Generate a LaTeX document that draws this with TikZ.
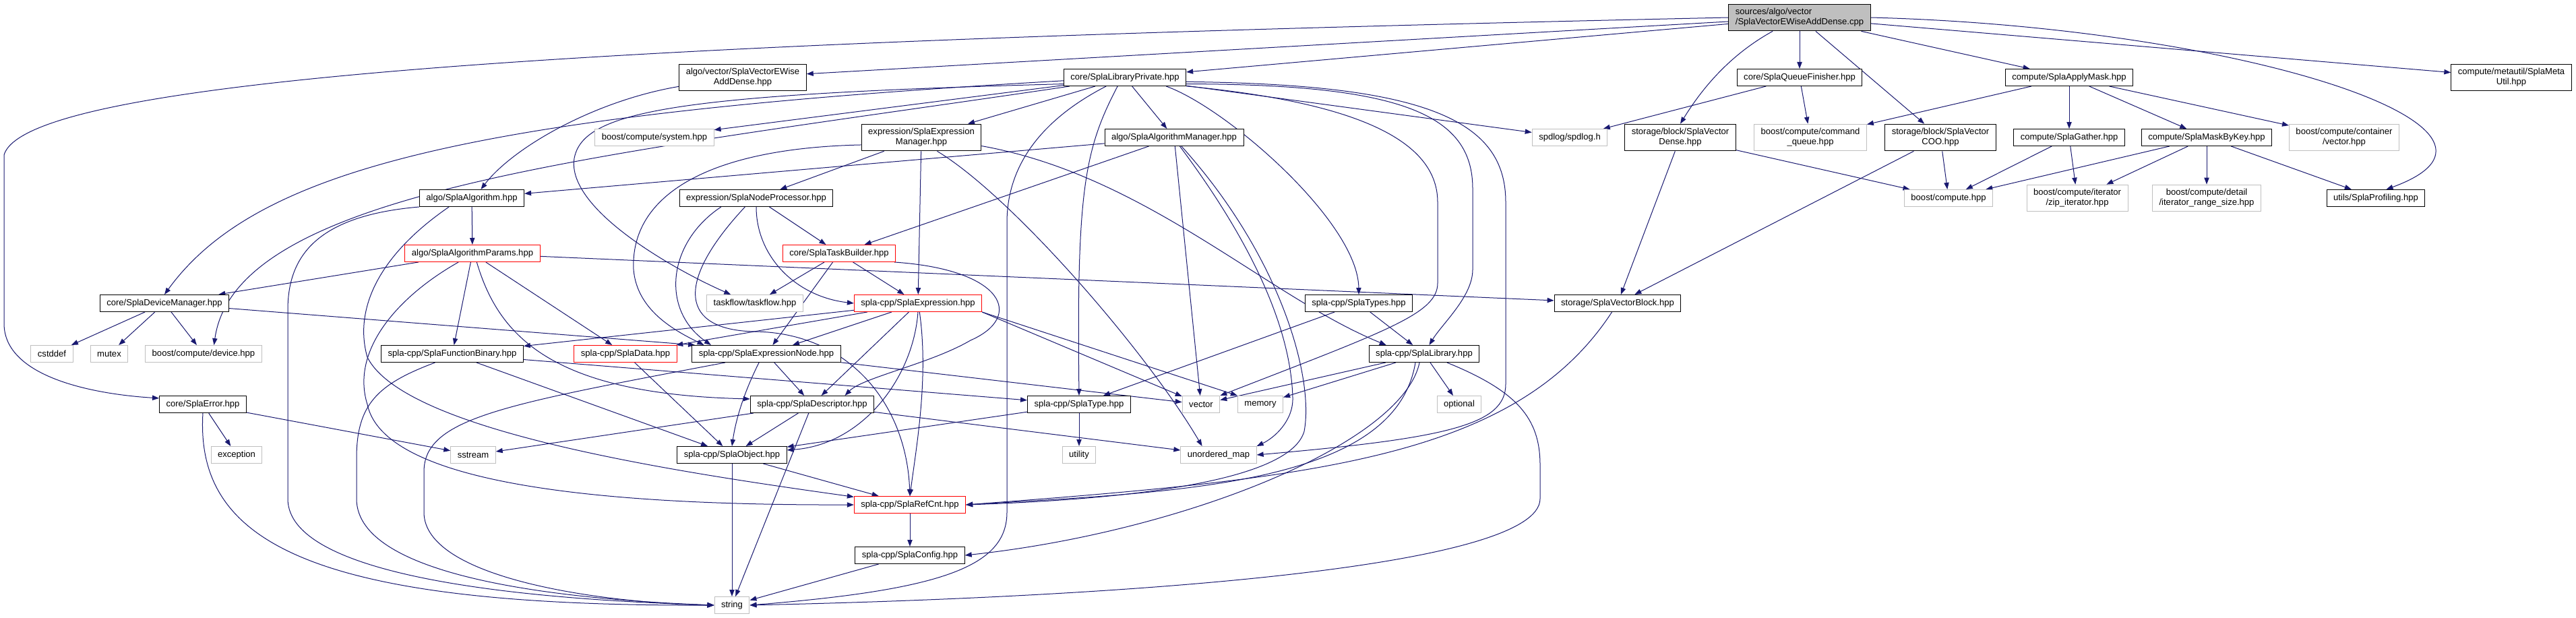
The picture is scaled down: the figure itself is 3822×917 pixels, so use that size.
\documentclass[tikz,border=0pt]{standalone}
\usepackage{fontspec}
\setmainfont{Liberation Sans}
\usetikzlibrary{arrows.meta, backgrounds}
\definecolor{dxedge}{RGB}{25,25,112}
\definecolor{dxgrey}{RGB}{191,191,191}
\definecolor{dxred}{RGB}{255,0,0}
\tikzset{
  hdrbox/.style = {draw=black, fill=white, line width=0.75pt,
                   inner xsep=7.5pt, inner ysep=4.7pt, minimum height=18.75pt,
                   align=center, font=\fontsize{9.8}{11.25}\selectfont},
  sysbox/.style = {hdrbox, draw=dxgrey},
  cutbox/.style = {hdrbox, draw=dxred},
  srcbox/.style = {hdrbox, fill=dxgrey, align=left},
  incl/.style   = {-{Triangle[length=7.5pt,width=5.5pt]}, line width=0.75pt, dxedge},
}

\begin{document}
\begin{tikzpicture}[x=0.75pt, y=-0.75pt]
  \useasboundingbox (0,0) rectangle (3822,917);
  % the source file and its direct includes
  \node[srcbox] (root) at (2670,26) {sources/algo/vector\\/SplaVectorEWiseAddDense.cpp};
  \node[hdrbox] (vewise)    at (1102,115) {algo/vector/SplaVectorEWise\\AddDense.hpp};
  \node[hdrbox] (libpriv)   at (1669,115) {core/SplaLibraryPrivate.hpp};
  \node[hdrbox] (queuefin)  at (2670,115) {core/SplaQueueFinisher.hpp};
  \node[hdrbox] (applymask) at (3070,115) {compute/SplaApplyMask.hpp};
  \node[hdrbox] (metautil)  at (3726,115) {compute/metautil/SplaMeta\\Util.hpp};

  \node[sysbox] (bsystem)   at (971,204)  {boost/compute/system.hpp};
  \node[hdrbox] (exprman)   at (1367,204) {expression/SplaExpression\\Manager.hpp};
  \node[hdrbox] (algman)    at (1742,204) {algo/SplaAlgorithmManager.hpp};
  \node[sysbox] (spdlog)    at (2329,204) {spdlog/spdlog.h};
  \node[hdrbox] (vdense)    at (2493,204) {storage/block/SplaVector\\Dense.hpp};
  \node[sysbox] (bcmdq)     at (2686,204) {boost/compute/command\\\_queue.hpp};
  \node[hdrbox] (vcoo)      at (2879,204) {storage/block/SplaVector\\COO.hpp};
  \node[hdrbox] (gather)    at (3070,204) {compute/SplaGather.hpp};
  \node[hdrbox] (maskbykey) at (3274,204) {compute/SplaMaskByKey.hpp};
  \node[sysbox] (bcvector)  at (3478,204) {boost/compute/container\\/vector.hpp};

  \node[hdrbox] (algorithm) at (700,294)  {algo/SplaAlgorithm.hpp};
  \node[hdrbox] (nodeproc)  at (1122,294) {expression/SplaNodeProcessor.hpp};
  \node[sysbox] (bcompute)  at (2891,294) {boost/compute.hpp};
  \node[sysbox] (zipiter)   at (3082,294) {boost/compute/iterator\\/zip\_iterator.hpp};
  \node[sysbox] (iterrange) at (3274,294) {boost/compute/detail\\/iterator\_range\_size.hpp};
  \node[hdrbox] (profiling) at (3525,294) {utils/SplaProfiling.hpp};

  \node[cutbox] (algparams)   at (701,376)  {algo/SplaAlgorithmParams.hpp};
  \node[cutbox] (taskbuilder) at (1245,376) {core/SplaTaskBuilder.hpp};

  \node[hdrbox] (devman)     at (244,450)  {core/SplaDeviceManager.hpp};
  \node[sysbox] (taskflow)   at (1120,450) {taskflow/taskflow.hpp};
  \node[cutbox] (expression) at (1362,450) {spla-cpp/SplaExpression.hpp};
  \node[hdrbox] (types)      at (2016,450) {spla-cpp/SplaTypes.hpp};
  \node[hdrbox] (vblock)     at (2400,450) {storage/SplaVectorBlock.hpp};

  \node[sysbox] (cstddef)    at (77,525)   {cstddef};
  \node[sysbox] (mutex)      at (162,525)  {mutex};
  \node[sysbox] (bdevice)    at (302,525)  {boost/compute/device.hpp};
  \node[hdrbox] (funcbinary) at (671,525)  {spla-cpp/SplaFunctionBinary.hpp};
  \node[cutbox] (data)       at (928,525)  {spla-cpp/SplaData.hpp};
  \node[hdrbox] (exprnode)   at (1137,525) {spla-cpp/SplaExpressionNode.hpp};
  \node[hdrbox] (library)    at (2113,525) {spla-cpp/SplaLibrary.hpp};

  \node[hdrbox] (error)      at (301,600)  {core/SplaError.hpp};
  \node[hdrbox] (descriptor) at (1205,600) {spla-cpp/SplaDescriptor.hpp};
  \node[hdrbox] (type)       at (1601,600) {spla-cpp/SplaType.hpp};
  \node[sysbox] (vector)     at (1782,600) {vector};
  \node[sysbox] (memory)     at (1870,600) {memory};
  \node[sysbox] (optional)   at (2165,600) {optional};

  \node[sysbox] (exception)  at (351,675)  {exception};
  \node[sysbox] (sstream)    at (702,675)  {sstream};
  \node[hdrbox] (object)     at (1086,675) {spla-cpp/SplaObject.hpp};
  \node[sysbox] (utility)    at (1601,675) {utility};
  \node[sysbox] (unordmap)   at (1808,675) {unordered\_map};

  \node[cutbox] (refcnt)     at (1350,749) {spla-cpp/SplaRefCnt.hpp};
  \node[hdrbox] (config)     at (1350,824) {spla-cpp/SplaConfig.hpp};
  \node[sysbox] (string)     at (1086,898) {string};

  \begin{scope}[on background layer]
    % straight includes
    \draw[incl] (root) -- (vewise);
    \draw[incl] (root) -- (libpriv);
    \draw[incl] (root) -- (queuefin);
    \draw[incl] (root) -- (vcoo);
    \draw[incl] (root) -- (applymask);
    \draw[incl] (root) -- (metautil);
    \draw[incl] (libpriv) -- (bsystem);
    \draw[incl] (libpriv) -- (exprman);
    \draw[incl] (libpriv) -- (algman);
    \draw[incl] (libpriv) -- (spdlog);
    \draw[incl] (queuefin) -- (spdlog);
    \draw[incl] (queuefin) -- (bcmdq);
    \draw[incl] (applymask) -- (bcmdq);
    \draw[incl] (applymask) -- (gather);
    \draw[incl] (applymask) -- (maskbykey);
    \draw[incl] (applymask) -- (bcvector);
    \draw[incl] (gather) -- (bcompute);
    \draw[incl] (gather) -- (zipiter);
    \draw[incl] (maskbykey) -- (bcompute);
    \draw[incl] (maskbykey) -- (zipiter);
    \draw[incl] (maskbykey) -- (iterrange);
    \draw[incl] (maskbykey) -- (profiling);
    \draw[incl] (vdense) -- (vblock);
    \draw[incl] (vdense) -- (bcompute);
    \draw[incl] (vcoo) -- (vblock);
    \draw[incl] (vcoo) -- (bcompute);
    \draw[incl] (algman) -- (algorithm);
    \draw[incl] (algman) -- (taskbuilder);
    \draw[incl] (algman) -- (vector);
    \draw[incl] (exprman) -- (nodeproc);
    \draw[incl] (exprman) -- (expression);
    \draw[incl] (nodeproc) -- (taskbuilder);
    \draw[incl] (taskbuilder) -- (taskflow);
    \draw[incl] (taskbuilder) -- (expression);
    \draw[incl] (taskbuilder) -- (exprnode);
    \draw[incl] (algorithm) -- (algparams);
    \draw[incl] (algparams) -- (devman);
    \draw[incl] (algparams) -- (funcbinary);
    \draw[incl] (algparams) -- (data);
    \draw[incl] (algparams) -- (vblock);
    \draw[incl] (devman) -- (cstddef);
    \draw[incl] (devman) -- (mutex);
    \draw[incl] (devman) -- (bdevice);
    \draw[incl] (devman) -- (exprnode.173);
    \draw[incl] (expression) -- (funcbinary);
    \draw[incl] (expression) -- (data);
    \draw[incl] (expression) -- (exprnode);
    \draw[incl] (expression) -- (descriptor);
    \draw[incl] (expression.south east) -- (vector);
    \draw[incl] (expression.south east) -- (memory.north west);
    \draw[incl] (exprnode) -- (descriptor);
    \draw[incl] (exprnode) -- (vector);
    \draw[incl] (funcbinary) -- (type);
    \draw[incl] (funcbinary) -- (object);
    \draw[incl] (data) -- (object);
    \draw[incl] (types) -- (type);
    \draw[incl] (types) -- (library);
    \draw[incl] (library) -- (vector);
    \draw[incl] (library) -- (memory);
    \draw[incl] (library) -- (optional);
    \draw[incl] (error) -- (exception);
    \draw[incl] (error) -- (sstream);
    \draw[incl] (descriptor) -- (object);
    \draw[incl] (descriptor) -- (string);
    \draw[incl] (descriptor) -- (sstream);
    \draw[incl] (descriptor) -- (unordmap);
    \draw[incl] (type) -- (object);
    \draw[incl] (type) -- (utility);
    \draw[incl] (object) -- (refcnt);
    \draw[incl] (object) -- (string);
    \draw[incl] (refcnt) -- (config);
    \draw[incl] (config) -- (string);

    % curved includes
    \draw[incl] (root.west) .. controls (1000,60) and (40,110) .. (6,230) -- (6,480)
                .. controls (6,560) and (140,585) .. (error.172);
    \draw[incl] (root.207) .. controls (2560,85) and (2520,140) .. (vdense.north);
    \draw[incl] (root.east) .. controls (3320,40) and (3790,190) .. (profiling.40);
    \draw[incl] (vewise.188) .. controls (880,150) and (760,220) .. (algorithm.44);

    \draw[incl] (libpriv.183) .. controls (700,170) and (380,250) .. (devman.north);
    \draw[incl] (libpriv.189) .. controls (900,230) and (350,280) .. (bdevice.40);
    \draw[incl] (libpriv.186) .. controls (1000,140) and (865,165) .. (852,235)
                .. controls (840,310) and (1000,400) .. (taskflow.160);
    \draw[incl] (libpriv.230) .. controls (1610,220) and (1597,280) .. (type.north);
    \draw[incl] (libpriv.205) .. controls (1540,180) and (1494,250) .. (1494,330) -- (1494,760)
                .. controls (1494,840) and (1400,875) .. (string.east);
    \draw[incl] (libpriv.-12) .. controls (1820,160) and (2015,330) .. (types.north);
    \draw[incl] (libpriv.-8) .. controls (1990,150) and (2133,200) .. (2133,300) -- (2133,420)
                .. controls (2133,465) and (2060,490) .. (vector.north east);
    \draw[incl] (libpriv.-6) .. controls (2080,125) and (2185,170) .. (2185,280) -- (2185,400)
                .. controls (2185,440) and (2140,480) .. (library.60);
    \draw[incl] (libpriv.-4) .. controls (2120,125) and (2234,180) .. (2234,300) -- (2234,570)
                .. controls (2234,630) and (2150,650) .. (unordmap.east);

    \draw[incl] (algman.-57) .. controls (1850,350) and (1915,480) .. (1918,590)
                .. controls (1919,625) and (1890,650) .. (unordmap.north east);
    \draw[incl] (algman.-50) .. controls (1900,380) and (1950,560) .. (1935,640)
                .. controls (1915,710) and (1700,740) .. (refcnt.east);

    \draw[incl] (exprman.187) .. controls (1050,220) and (935,290) .. (940,400)
                .. controls (945,460) and (1000,490) .. (exprnode.172);
    \draw[incl] (exprman.-41) .. controls (1500,290) and (1700,520) .. (unordmap.152);
    \draw[incl] (exprman.-8) .. controls (1700,260) and (1880,440) .. (library.167);

    \draw[incl] (nodeproc.south) .. controls (1122,380) and (1180,440) .. (expression.west);
    \draw[incl] (nodeproc.194) .. controls (990,360) and (980,460) .. (exprnode.171);
    \draw[incl] (nodeproc.218) .. controls (1000,420) and (1010,490) .. (1120,492)
                .. controls (1260,494) and (1345,600) .. (refcnt.north);

    \draw[incl] (taskbuilder.-9) .. controls (1490,400) and (1520,470) .. (1440,505)
                .. controls (1380,540) and (1280,560) .. (descriptor.15);

    \draw[incl] (expression.south) .. controls (1355,560) and (1280,660) .. (object.5);
    \draw[incl] (expression.-80) .. controls (1378,560) and (1360,660) .. (refcnt.north);

    \draw[incl] (exprnode.230) .. controls (1105,580) and (1092,620) .. (object.north);
    \draw[incl] (exprnode.192) .. controls (750,600) and (629,620) .. (629,700) -- (629,760)
                .. controls (629,860) and (900,895) .. (string.west);
    \draw[incl] (funcbinary.207) .. controls (560,570) and (529,600) .. (529,680) -- (529,740)
                .. controls (529,860) and (850,890) .. (string.west);

    \draw[incl] (algorithm.south west) .. controls (470,320) and (427,380) .. (427,460) -- (427,740)
                .. controls (427,860) and (800,890) .. (string.west);
    \draw[incl] (algorithm.201) .. controls (560,380) and (525,460) .. (545,530)
                .. controls (600,640) and (1000,700) .. (refcnt.172);
    \draw[incl] (algparams.-64) .. controls (740,500) and (820,585) .. (descriptor.175);
    \draw[incl] (algparams.212) .. controls (590,440) and (520,520) .. (545,600)
                .. controls (570,720) and (900,750) .. (refcnt.west);

    \draw[incl] (error.south) .. controls (290,800) and (450,900) .. (string.west);

    \draw[incl] (library.225) .. controls (2070,720) and (1750,730) .. (refcnt.east);
    \draw[incl] (library.242) .. controls (2080,660) and (1750,790) .. (config.east);
    \draw[incl] (library.-21) .. controls (2250,580) and (2285,620) .. (2285,690) -- (2285,740)
                .. controls (2285,840) and (1700,885) .. (string.east);
    \draw[incl] (vblock.237) .. controls (2250,680) and (1950,710) .. (refcnt.east);
  \end{scope}
\end{tikzpicture}
\end{document}
